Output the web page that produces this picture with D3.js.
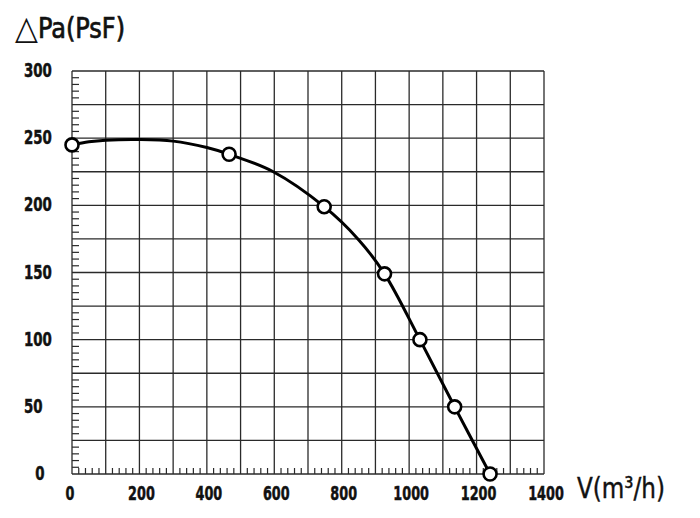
<!DOCTYPE html>
<html>
<head>
<meta charset="utf-8">
<script src="https://cdn.jsdelivr.net/npm/d3@7"></script>
<style>
    body { margin: 0; background: #fff; }
    svg { display: block; }
</style>
</head>
<body>
<div id="chart"></div>
<script>
// marker points
var flowPoints = [0, 466, 748, 927, 1032, 1135, 1240];
var pressurePoints = [245, 238, 199, 149, 100, 50, 0];

// points along the drawn curve
var curveFlow = [0, 50, 100, 200, 300, 400, 466, 597, 748, 848, 927, 1032, 1135, 1240];
var curvePressure = [245, 247.3, 248.5, 249, 247.8, 243, 238, 225, 199, 175, 149, 100, 50, 0];

var xTickLabels = [0, 200, 400, 600, 800, 1000, 1200, 1400];
var yTickLabels = [0, 50, 100, 150, 200, 250, 300];

var yTitleSymbol = "\u25B3";
var yTitle = "Pa(PsF)";
var xTitle = "V(m\u00B3/h)";

var width = 700;
var height = 518;
var margins = {top: 71, right: 156, bottom: 44, left: 72};

var gridColour = "#2a2a2a";
var textColour = "#111";
var labelFont = "'DejaVu Sans Condensed', 'DejaVu Sans', sans-serif";

var svg = d3.select("#chart").append("svg:svg")
    .attr("width", width)
    .attr("height", height);

var xScale = d3.scaleLinear().domain([0, 1400]).range([margins.left, width - margins.right]);
var yScale = d3.scaleLinear().domain([0, 300]).range([height - margins.bottom, margins.top]);

var plot = svg.append("svg:g").attr("class", "vis-plot");

// grid, every 100 on x and 25 on y
plot.append("svg:g")
    .selectAll("line")
    .data(d3.range(0, 1401, 100))
    .enter()
    .append("svg:line")
    .attr("x1", function(d) { return xScale(d); })
    .attr("x2", function(d) { return xScale(d); })
    .attr("y1", yScale(0))
    .attr("y2", yScale(300))
    .attr("stroke", gridColour)
    .attr("stroke-width", 1.3);

plot.append("svg:g")
    .selectAll("line")
    .data(d3.range(0, 301, 25))
    .enter()
    .append("svg:line")
    .attr("x1", xScale(0))
    .attr("x2", xScale(1400))
    .attr("y1", function(d) { return yScale(d); })
    .attr("y2", function(d) { return yScale(d); })
    .attr("stroke", gridColour)
    .attr("stroke-width", 1.3);

// minor ticks on the left edge (every 5) and bottom edge (every 20)
plot.append("svg:g")
    .selectAll("line")
    .data(d3.range(0, 300, 5).filter(function(d) { return d % 25 != 0; }))
    .enter()
    .append("svg:line")
    .attr("x1", xScale(0))
    .attr("x2", xScale(0) + 7)
    .attr("y1", function(d) { return yScale(d); })
    .attr("y2", function(d) { return yScale(d); })
    .attr("stroke", gridColour)
    .attr("stroke-width", 1.2);

plot.append("svg:g")
    .selectAll("line")
    .data(d3.range(0, 1400, 20).filter(function(d) { return d % 100 != 0; }))
    .enter()
    .append("svg:line")
    .attr("x1", function(d) { return xScale(d); })
    .attr("x2", function(d) { return xScale(d); })
    .attr("y1", yScale(0))
    .attr("y2", yScale(0) - 6)
    .attr("stroke", gridColour)
    .attr("stroke-width", 1.2);

var boldLabel = function(sel, perDigit) {
    sel.attr("font-family", labelFont)
        .attr("font-weight", "bold")
        .attr("font-size", 20)
        .attr("textLength", function(d) { return String(d).length * perDigit; })
        .attr("lengthAdjust", "spacingAndGlyphs")
        .attr("fill", textColour)
        .attr("stroke", textColour)
        .attr("stroke-width", 0.5)
        .text(function(d) { return d; });
};

// tick labels
svg.append("svg:g")
    .selectAll("text")
    .data(yTickLabels)
    .enter()
    .append("svg:text")
    .attr("x", function(d) { return d == 0 ? 40 : 24; })
    .attr("y", function(d) { return yScale(d) + 6; })
    .attr("text-anchor", function(d) { return d == 0 ? "middle" : "start"; })
    .call(boldLabel, 9.3);

svg.append("svg:g")
    .selectAll("text")
    .data(xTickLabels)
    .enter()
    .append("svg:text")
    .attr("x", function(d) { return d == 0 ? xScale(d) - 2 : xScale(d) + 2; })
    .attr("y", 500)
    .attr("text-anchor", "middle")
    .call(boldLabel, 8.9);

// axis titles
var yTitleText = svg.append("svg:text")
    .attr("x", 15)
    .attr("y", 39)
    .attr("font-family", labelFont)
    .attr("fill", textColour);

yTitleText.append("svg:tspan")
    .attr("font-size", 33)
    .text(yTitleSymbol);

yTitleText.append("svg:tspan")
    .attr("x", 38)
    .attr("y", 38)
    .attr("font-size", 28)
    .attr("stroke", textColour)
    .attr("stroke-width", 0.7)
    .attr("textLength", 87)
    .attr("lengthAdjust", "spacingAndGlyphs")
    .text(yTitle);

svg.append("svg:text")
    .attr("x", 577)
    .attr("y", 498)
    .attr("font-family", labelFont)
    .attr("font-size", 29)
    .attr("textLength", 88)
    .attr("lengthAdjust", "spacingAndGlyphs")
    .attr("fill", textColour)
    .attr("stroke", textColour)
    .attr("stroke-width", 0.4)
    .text(xTitle);

// curve
var line = d3.line()
    .x(function(d) { return xScale(d[0]); })
    .y(function(d) { return yScale(d[1]); })
    .curve(d3.curveCatmullRom.alpha(0.5));

plot.append("svg:path")
    .datum(d3.zip(curveFlow, curvePressure))
    .attr("d", line)
    .attr("fill", "none")
    .attr("stroke", "#000")
    .attr("stroke-width", 3);

// markers
plot.append("svg:g")
    .selectAll("circle")
    .data(d3.zip(flowPoints, pressurePoints))
    .enter()
    .append("svg:circle")
    .attr("cx", function(d) { return xScale(d[0]); })
    .attr("cy", function(d) { return yScale(d[1]); })
    .attr("r", 6.5)
    .attr("fill", "#fff")
    .attr("stroke", "#000")
    .attr("stroke-width", 2.6);
</script>
</body>
</html>
